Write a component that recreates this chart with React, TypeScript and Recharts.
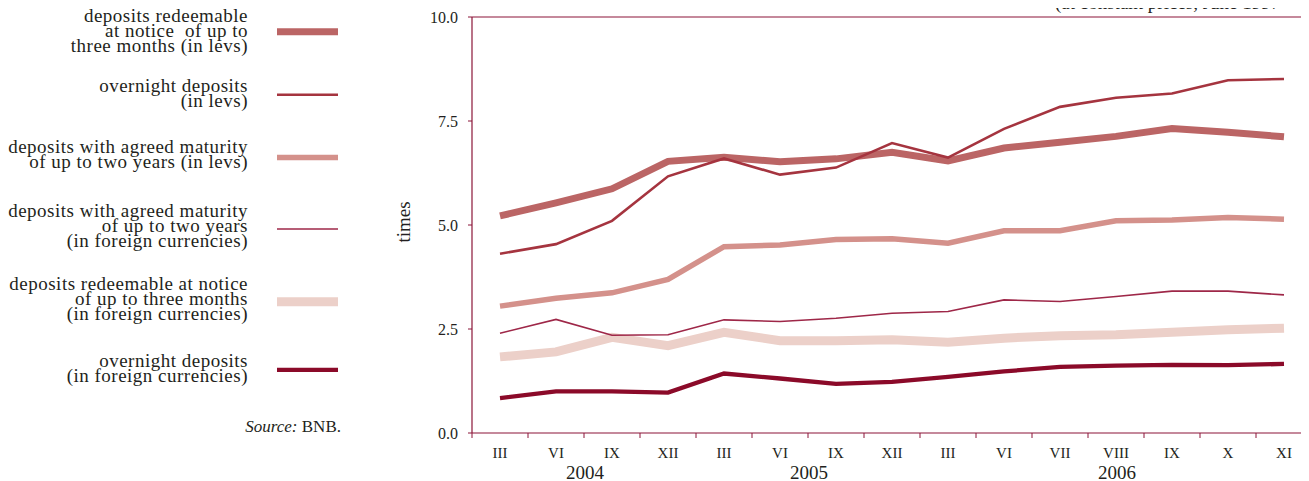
import React from 'react';
import { LineChart, Line, XAxis, YAxis, ReferenceLine, Legend, Customized } from 'recharts';

const months = ['III', 'VI', 'IX', 'XII', 'III', 'VI', 'IX', 'XII', 'III', 'VI', 'VII', 'VIII', 'IX', 'X', 'XI'];
const years = ['2004', '2004', '2004', '2004', '2005', '2005', '2005', '2005', '2006', '2006', '2006', '2006', '2006', '2006', '2006'];

const redeemLev = [5.22, 5.53, 5.87, 6.53, 6.63, 6.52, 6.59, 6.75, 6.54, 6.85, 6.99, 7.13, 7.32, 7.23, 7.12];
const overnightLev = [4.31, 4.54, 5.1, 6.17, 6.6, 6.21, 6.38, 6.97, 6.62, 7.31, 7.84, 8.06, 8.16, 8.48, 8.51];
const agreedLev = [3.05, 3.24, 3.37, 3.69, 4.48, 4.52, 4.65, 4.67, 4.56, 4.86, 4.86, 5.1, 5.12, 5.18, 5.14];
const agreedFx = [2.4, 2.73, 2.35, 2.36, 2.72, 2.68, 2.76, 2.88, 2.92, 3.2, 3.16, 3.28, 3.41, 3.41, 3.32];
const redeemFx = [1.83, 1.95, 2.3, 2.1, 2.42, 2.22, 2.22, 2.24, 2.18, 2.28, 2.34, 2.36, 2.42, 2.48, 2.52];
const overnightFx = [0.84, 1.0, 1.0, 0.97, 1.43, 1.31, 1.18, 1.23, 1.35, 1.48, 1.59, 1.62, 1.64, 1.63, 1.66];

const yTicks = [0, 2.5, 5, 7.5, 10];

const FONT = '"Liberation Serif", "Times New Roman", serif';
const AXIS = '#8b1538';
const TEXT = '#231f20';
const HALF_STEP = 28;

const series = [
  { key: 'redeemLev', values: redeemLev, color: '#bb6565', width: 7, legend: ['deposits redeemable', 'at notice  of up to', 'three months (in levs)'], base: 21.5, sampleY: 31.7 },
  { key: 'overnightLev', values: overnightLev, color: '#a5343f', width: 2.6, legend: ['overnight deposits', '(in levs)'], base: 91.5, sampleY: 94.7 },
  { key: 'agreedLev', values: agreedLev, color: '#d4918b', width: 5.5, legend: ['deposits with agreed maturity', 'of up to two years (in levs)'], base: 153.3, sampleY: 157.5 },
  { key: 'agreedFx', values: agreedFx, color: '#9e2748', width: 1.6, legend: ['deposits with agreed maturity', 'of up to two years', '(in foreign currencies)'], base: 216.7, sampleY: 229 },
  { key: 'redeemFx', values: redeemFx, color: '#ecd0c9', width: 9, legend: ['deposits redeemable at notice', 'of up to three months', '(in foreign currencies)'], base: 290, sampleY: 301.7 },
  { key: 'overnightFx', values: overnightFx, color: '#8b0a29', width: 4.3, legend: ['overnight deposits', '(in foreign currencies)'], base: 366.7, sampleY: 369.8 },
];

const drawOrder = ['redeemLev', 'agreedLev', 'redeemFx', 'overnightLev', 'agreedFx', 'overnightFx'];

const data = months.map((m, i) => {
  const row: Record<string, any> = { key: `${years[i]}-${m}-${i}`, month: m, year: years[i] };
  series.forEach((s) => {
    row[s.key] = s.values[i];
  });
  return row;
});

const MonthTick = (props: any) => {
  const { x, y, payload, index } = props;
  const half = HALF_STEP;
  const i = typeof index === 'number' ? index : payload.index;
  const month = months[i];
  const year = years[i];
  const firstOfYear = i === 0 || years[i - 1] !== year;
  const count = years.filter((yy) => yy === year).length;
  return (
    <g>
      <line x1={x - half} x2={x - half} y1={y} y2={y + 5} stroke={AXIS} strokeWidth={1} />
      <text x={x} y={y + 24.5} textAnchor="middle" fontSize={15} fontFamily={FONT} fill={TEXT}>
        {month}
      </text>
      {firstOfYear && (
        <text x={x - half + count * half + 1} y={y + 45.5} textAnchor="middle" fontSize={19} fontFamily={FONT} fill={TEXT}>
          {year}
        </text>
      )}
    </g>
  );
};

const renderLegend = () => (
  <svg width={360} height={481} style={{ display: 'block' }}>
    {series.map((s) => (
      <g key={s.key}>
        {s.legend.map((line, li) => (
          <text
            key={li}
            x={248}
            y={s.base + li * 15}
            textAnchor="end"
            fontSize={19}
            fontFamily={FONT}
            fill={TEXT}
            letterSpacing={0.5}
            style={{ whiteSpace: 'pre' }}
          >
            {line}
          </text>
        ))}
        <line x1={277} x2={338} y1={s.sampleY} y2={s.sampleY} stroke={s.color} strokeWidth={s.width} />
      </g>
    ))}
    <text x={341} y={431.5} textAnchor="end" fontSize={17} fontFamily={FONT} fill={TEXT}>
      <tspan fontStyle="italic">Source:</tspan> BNB.
    </text>
  </svg>
);

const Decorations = () => (
  <g>
    <text x={1055} y={9} fontSize={19} fontFamily={FONT} fill={TEXT}>
      (at constant prices, June 1997 = 1)
    </text>
    <text
      x={410}
      y={222}
      textAnchor="middle"
      fontSize={19}
      fontFamily={FONT}
      fill={TEXT}
      transform="rotate(-90, 410, 222)"
    >
      times
    </text>
  </g>
);

export default function App() {
  return (
    <div
      style={{
        marginLeft: -8,
        marginTop: -8,
        width: 1309,
        height: 481,
        overflow: 'hidden',
        position: 'relative',
        background: '#fff',
      }}
    >
      <LineChart width={1320} height={481} data={data} margin={{ top: 17, right: 8, left: 412, bottom: 0 }}>
        <XAxis
          dataKey="key"
          height={48}
          interval={0}
          padding={{ left: HALF_STEP, right: HALF_STEP }}
          tickLine={false}
          tickSize={0}
          tickMargin={0}
          axisLine={{ stroke: AXIS, strokeWidth: 1.2 }}
          tick={<MonthTick />}
        />
        <YAxis
          width={60}
          domain={[0, 10]}
          ticks={yTicks}
          tickFormatter={(v: number) => v.toFixed(1)}
          tickSize={4}
          tickMargin={10}
          axisLine={{ stroke: AXIS, strokeWidth: 1.2 }}
          tickLine={{ stroke: AXIS }}
          tick={{ fill: TEXT, fontSize: 16, fontFamily: FONT }}
          interval={0}
        />
        <ReferenceLine y={10} stroke={AXIS} strokeWidth={1.2} />
        {drawOrder.map((k) => {
          const s = series.find((ss) => ss.key === k)!;
          return (
            <Line
              key={s.key}
              type="linear"
              dataKey={s.key}
              stroke={s.color}
              strokeWidth={s.width}
              dot={false}
              activeDot={false}
              isAnimationActive={false}
              legendType="line"
            />
          );
        })}
        <Legend
          layout="vertical"
          align="center"
          verticalAlign="middle"
          wrapperStyle={{ left: 0, top: 0, width: 360, height: 481 }}
          content={renderLegend}
        />
        <Customized component={Decorations} />
      </LineChart>
    </div>
  );
}
